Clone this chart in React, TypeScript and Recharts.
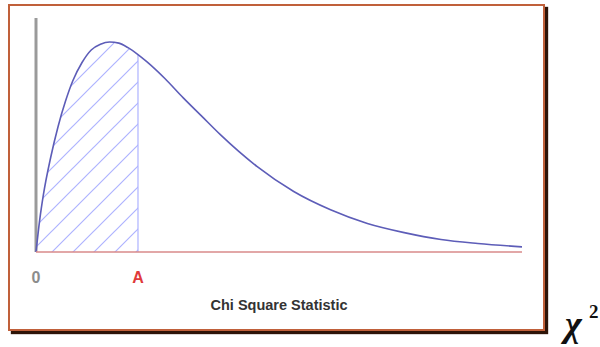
import React from "react";
import { ComposedChart, Line, Area, XAxis, YAxis, ReferenceLine } from "recharts";

const xValues = [0, 0.1, 0.2, 0.4, 0.6, 0.8, 1.0, 1.25, 1.5, 1.75, 2, 2.25, 2.5, 2.77, 3, 3.5, 4, 4.5, 5, 6, 7, 8, 9, 10, 11, 12, 13.2];
const densityValues = [0, 0.028, 0.05, 0.083, 0.11, 0.132, 0.15, 0.166, 0.177, 0.182, 0.184, 0.183, 0.179, 0.173, 0.167, 0.152, 0.135, 0.119, 0.103, 0.075, 0.053, 0.037, 0.025, 0.017, 0.011, 0.0075, 0.0045];
const criticalA = 2.77;
const criticalDensity = 0.173;
const tickValues = [0, 2.77];
const tickLabels = ["0", "A"];
const xLabel = "Chi Square Statistic";
const axisSymbol = "χ";
const axisSymbolPower = "2";

const data = xValues.map((x, i) => ({
  x,
  y: densityValues[i],
  shade: x <= criticalA ? densityValues[i] : null,
}));

const renderTick = (props: any) => {
  const { x, y, payload, index } = props;
  const isA = payload.value !== 0;
  const i = tickValues.indexOf(payload.value);
  return (
    <text
      x={x}
      y={y + 23}
      textAnchor="middle"
      fontFamily="Arial, 'Liberation Sans', sans-serif"
      fontWeight="bold"
      fontSize={16}
      fill={isA ? "#e03a3a" : "#8c8c8c"}
    >
      {tickLabels[i >= 0 ? i : index]}
    </text>
  );
};

const renderXLabel = (props: any) => {
  const vb = props.viewBox || {};
  return (
    <text
      x={vb.x + vb.width / 2}
      y={vb.y + 58}
      textAnchor="middle"
      fontFamily="Arial, 'Liberation Sans', sans-serif"
      fontWeight="bold"
      fontSize={14.5}
      fill="#333"
    >
      {xLabel}
    </text>
  );
};

export default function App() {
  return (
    <div style={{ position: "absolute", left: 0, top: 0, width: 600, height: 347, background: "#fff" }}>
      <div
        style={{
          position: "absolute",
          left: 8,
          top: 4,
          width: 533,
          height: 323,
          border: "2px solid #c0603a",
          boxShadow: "3px 3px 1px #2e1408",
          background: "#fff",
        }}
      />
      <div style={{ position: "absolute", left: 0, top: 0 }}>
        <ComposedChart width={600} height={347} data={data} margin={{ top: 18, left: 36, right: 78, bottom: 35 }}>
          <defs>
            <pattern id="hatch" patternUnits="userSpaceOnUse" width="21" height="21" patternTransform="translate(10,0)">
              <path d="M-5,5 L5,-5 M0,21 L21,0 M16,26 L26,16" stroke="#aeb3ff" strokeWidth="1.2" />
            </pattern>
          </defs>
          <XAxis
            dataKey="x"
            type="number"
            domain={[0, 13.2]}
            ticks={tickValues}
            tickLine={false}
            axisLine={{ stroke: "#d98a8a", strokeWidth: 1.5 }}
            tick={renderTick}
            height={60}
            interval={0}
            label={renderXLabel as any}
          />
          <YAxis type="number" domain={[0, 0.205]} hide />
          <Area
            dataKey="shade"
            type="monotone"
            stroke="none"
            fill="url(#hatch)"
            fillOpacity={1}
            baseValue={0}
            isAnimationActive={false}
            connectNulls={false}
          />
          <ReferenceLine x={0} stroke="#9a9a9a" strokeWidth={3} />
          <ReferenceLine
            segment={[
              { x: criticalA, y: 0 },
              { x: criticalA, y: criticalDensity },
            ]}
            stroke="#aeb3ff"
            strokeWidth={1.2}
          />
          <Line dataKey="y" type="monotone" stroke="#5d5db8" strokeWidth={1.6} dot={false} isAnimationActive={false} />
        </ComposedChart>
      </div>
      <svg width={600} height={347} style={{ position: "absolute", left: 0, top: 0, pointerEvents: "none" }}>
        <text
          x={565}
          y={336}
          fontFamily="'Liberation Serif', 'Times New Roman', serif"
          fontWeight="bold"
          fontStyle="italic"
          fontSize={36}
          fill="#111"
        >
          {axisSymbol}
        </text>
        <text
          x={589}
          y={318}
          fontFamily="'Liberation Serif', 'Times New Roman', serif"
          fontWeight="bold"
          fontSize={19}
          fill="#111"
        >
          {axisSymbolPower}
        </text>
      </svg>
    </div>
  );
}
